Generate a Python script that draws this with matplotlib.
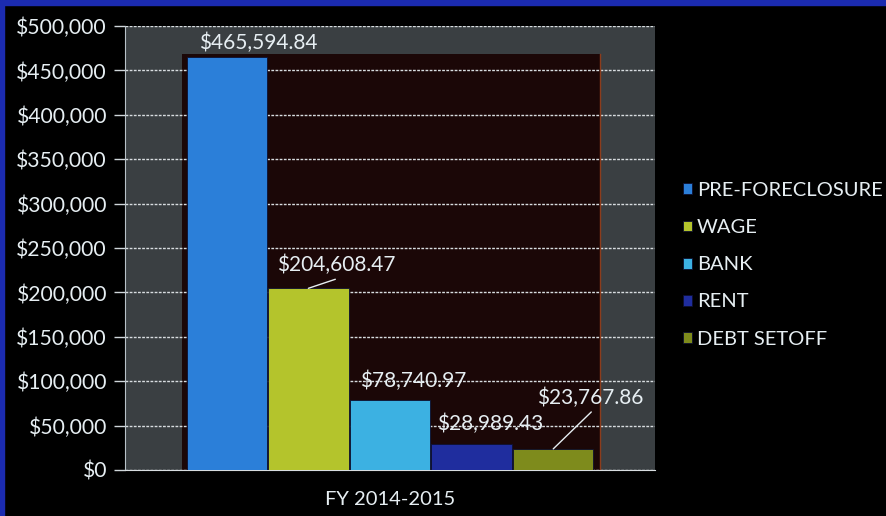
import numpy as np
import matplotlib.pyplot as plt
from matplotlib.patches import Rectangle
from matplotlib.ticker import FuncFormatter

categories = ["FY 2014-2015"]
series = ["PRE-FORECLOSURE", "WAGE", "BANK", "RENT", "DEBT SETOFF"]
values = [465594.84, 204608.47, 78740.97, 28989.43, 23767.86]
colors = ["#2b7fd9", "#b4c42c", "#3cb1e2", "#1f2d9e", "#7e8b1c"]

plt.rcParams['font.family'] = ['Lato', 'DejaVu Sans']
txt = "#e6eef2"

W, H = 886, 516
fig = plt.figure(figsize=(W / 100, H / 100), dpi=100, facecolor="black")

# blue frame of the slide
fig.patches.append(Rectangle((0, 1 - 5 / H), 1, 5 / H, transform=fig.transFigure,
                             color="#1b2bb0", zorder=0))
fig.patches.append(Rectangle((0, 0), 4 / W, 1, transform=fig.transFigure,
                             color="#1b2bb0", zorder=0))

ax = fig.add_axes([125 / W, 46 / H, 530 / W, 444 / H])
ax.set_facecolor("#3a3f42")

# dark back wall behind the bars
ax.add_patch(Rectangle((0.1075, 0), 0.7885, 0.937, transform=ax.transAxes,
                       facecolor="#1b0707", edgecolor="none", zorder=0.5))
ax.plot([0.896, 0.896], [0, 0.937], transform=ax.transAxes, color="#8c3c1c",
        lw=1, zorder=0.6)

n = len(series)
width = 0.154
x0 = np.arange(len(categories))
offsets = (np.arange(n) - (n - 1) / 2) * width
bars = []
for i in range(n):
    b = ax.bar(x0 + offsets[i], [values[i]], width * 0.985, color=colors[i],
               edgecolor="#0d1030", linewidth=0.6, label=series[i], zorder=3)
    bars.append(b[0])

ax.set_xlim(-0.5, 0.5)
ax.set_ylim(0, 500000)
ax.set_yticks(np.arange(0, 500001, 50000))
ax.yaxis.set_major_formatter(FuncFormatter(lambda v, p: "${:,.0f}".format(v)))
ax.set_xticks(x0)
ax.set_xticklabels(categories)
ax.tick_params(axis="y", colors="#cfd6da", labelcolor=txt, labelsize=15.2,
               length=8, width=1, pad=5)
ax.tick_params(axis="x", colors="#cfd6da", labelcolor=txt, labelsize=14.5,
               length=0, pad=15)
ax.grid(axis="y", color="#d8dde0", linestyle=(0, (2, 1)), linewidth=1, zorder=1)
ax.set_axisbelow(True)
for s in ["top", "right"]:
    ax.spines[s].set_visible(False)
ax.spines["left"].set_color("#b8c2c8")
ax.spines["bottom"].set_color("#d8dde0")

# data labels: text offsets and leader line ends, in points from the bar top
label_off = [(23, 5.4), (20, 12.7), (16.5, 9.4), (13, 10), (26.6, 32.4)]
leader_end = [None, (19.4, 6.5), None, None, (27.4, 26.6)]
for i, b in enumerate(bars):
    xc = b.get_x() + b.get_width() / 2
    yt = b.get_height()
    ax.annotate("${:,.2f}".format(values[i]), xy=(xc, yt), xytext=label_off[i],
                textcoords="offset points", ha="center", va="baseline",
                color=txt, fontsize=15, zorder=5)
    if leader_end[i] is not None:
        ax.annotate("", xy=(xc, yt), xytext=leader_end[i],
                    textcoords="offset points", zorder=5,
                    arrowprops=dict(arrowstyle="-", color="#e6eef2", lw=1,
                                    shrinkA=0, shrinkB=0))

leg = fig.legend(handles=bars, labels=series, loc="upper left",
                 bbox_to_anchor=(683 / W, 1 - 182 / H), frameon=False,
                 fontsize=14.5, labelcolor=txt, handlelength=0.45,
                 handleheight=0.45, handletextpad=0.25, labelspacing=1.0,
                 borderpad=0, borderaxespad=0)

fig.savefig("out.png", dpi=100, facecolor=fig.get_facecolor())
